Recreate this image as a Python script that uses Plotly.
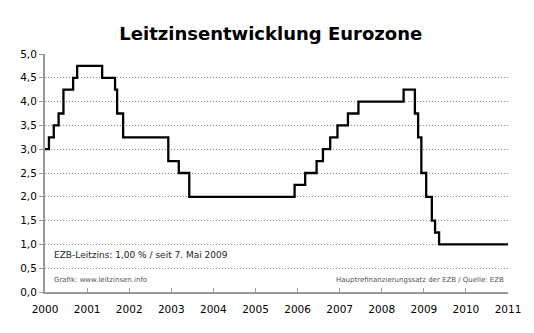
import plotly.graph_objects as go

dates = ["2000-01-01", "2000-02-04", "2000-03-17", "2000-04-28", "2000-06-09", "2000-09-01",
         "2000-10-06", "2001-05-11", "2001-08-31", "2001-09-18", "2001-11-09", "2002-12-06",
         "2003-03-07", "2003-06-06", "2005-12-06", "2006-03-08", "2006-06-15", "2006-08-09",
         "2006-10-11", "2006-12-13", "2007-03-14", "2007-06-13", "2008-07-09", "2008-10-15",
         "2008-11-12", "2008-12-10", "2009-01-21", "2009-03-11", "2009-04-08", "2009-05-13",
         "2011-01-01"]
rates = [3.00, 3.25, 3.50, 3.75, 4.25, 4.50, 4.75, 4.50, 4.25, 3.75, 3.25, 2.75,
         2.50, 2.00, 2.25, 2.50, 2.75, 3.00, 3.25, 3.50, 3.75, 4.00, 4.25, 3.75,
         3.25, 2.50, 2.00, 1.50, 1.25, 1.00, 1.00]
year_ticks = [f"{y}-01-01" for y in range(2000, 2012)]
year_labels = [str(y) for y in range(2000, 2012)]
y_ticks = [i * 0.5 for i in range(11)]
y_labels = [f"{v:.1f}".replace(".", ",") for v in y_ticks]

fig = go.Figure()
fig.add_trace(go.Scatter(x=dates, y=rates, mode="lines", line_shape="hv",
                         line=dict(color="black", width=2.3), hoverinfo="skip"))

fig.update_layout(
    width=534, height=333,
    margin=dict(l=45, r=26, t=54, b=41),
    paper_bgcolor="white", plot_bgcolor="white",
    showlegend=False,
    font=dict(family="DejaVu Sans", color="black", size=10),
    title=dict(text="<b>Leitzinsentwicklung Eurozone</b>", x=0.507, xanchor="center",
               y=0.9, yanchor="middle", font=dict(size=18, family="DejaVu Sans")),
    xaxis=dict(type="date", range=["2000-01-01", "2011-01-01"], tickvals=year_ticks,
               ticktext=year_labels, showgrid=False, showline=True, linecolor="#999999",
               linewidth=2, ticks="inside", ticklen=4, tickcolor="#999999",
               tickfont=dict(size=10.5), zeroline=False, ticklabelstandoff=6),
    yaxis=dict(range=[0, 5], tickvals=y_ticks, ticktext=y_labels, showgrid=True,
               gridcolor="#888888", griddash="1px,2px", gridwidth=1, showline=True,
               linecolor="#999999", linewidth=2, ticks="outside", ticklen=4,
               tickcolor="#999999", tickfont=dict(size=10.5), zeroline=False),
)

fig.add_annotation(text="EZB-Leitzins: 1,00 % / seit 7. Mai 2009", xref="paper", yref="paper",
                   x=0.015, y=0.155, xanchor="left", yanchor="middle", showarrow=False,
                   font=dict(size=9, color="#222222"))
fig.add_annotation(text="Grafik: www.leitzinsen.info", xref="paper", yref="paper",
                   x=0.015, y=0.05, xanchor="left", yanchor="middle", showarrow=False,
                   font=dict(size=7, color="#555555"))
fig.add_annotation(text="Hauptrefinanzierungssatz der EZB / Quelle: EZB", xref="paper", yref="paper",
                   x=0.996, y=0.05, xanchor="right", yanchor="middle", showarrow=False,
                   font=dict(size=7, color="#555555"))

fig.write_html("out.html")
